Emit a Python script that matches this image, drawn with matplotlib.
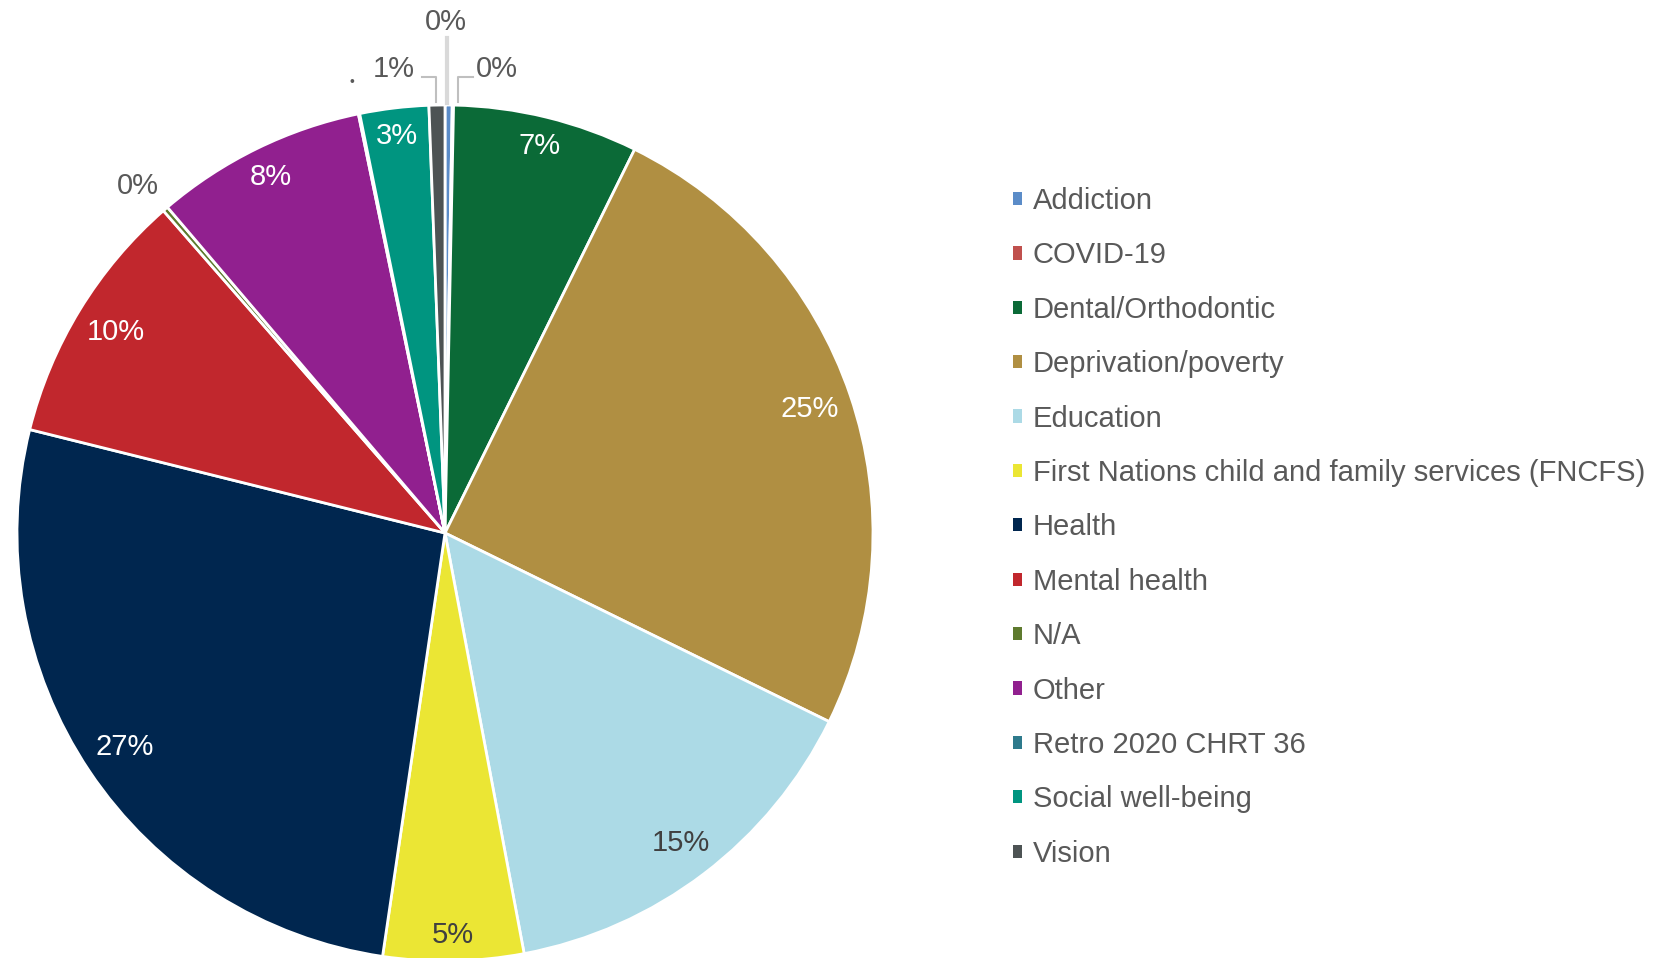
import matplotlib.pyplot as plt
import numpy as np
from matplotlib.patches import Patch

plt.rcParams['font.family'] = ['Liberation Sans', 'DejaVu Sans']

categories = ["Addiction", "COVID-19", "Dental/Orthodontic", "Deprivation/poverty",
              "Education", "First Nations child and family services (FNCFS)", "Health",
              "Mental health", "N/A", "Other", "Retro 2020 CHRT 36",
              "Social well-being", "Vision"]
shares = [0.27, 0.05, 7.0, 25.0, 14.8, 5.3, 26.6, 9.7, 0.2, 8.0, 0.05, 2.6, 0.6]
colors = ["#5b8cc8", "#c0504d", "#0b6a37", "#b08f42", "#acdae6", "#ebe634", "#00264f",
          "#c1272d", "#5e7a2e", "#91208f", "#2e7a8c", "#009580", "#4d5354"]

# label styling for the inside labels (radius as fraction, text colour)
inside = {2: (0.93, "white"), 3: (0.90, "white"), 4: (0.91, "#404040"),
          5: (0.94, "#404040"), 6: (0.90, "white"), 7: (0.90, "white"),
          9: (0.925, "white"), 11: (0.935, "white")}

W, H = 1662, 958
cx, cy, R = 445, 533, 428
fig = plt.figure(figsize=(W / 100, H / 100), dpi=100)
ax = fig.add_axes([(cx - R) / W, (H - cy - R) / H, 2 * R / W, 2 * R / H])

wedges, _ = ax.pie(shares, colors=colors, startangle=90, counterclock=False,
                   radius=1, wedgeprops=dict(edgecolor='white', linewidth=2))
for w in wedges:
    w.set_clip_on(False)
ax.set_xlim(-1, 1)
ax.set_ylim(-1, 1)
ax.set_aspect('equal')
ax.axis('off')

total = sum(shares)
pct = [f"{round(v / total * 100)}%" for v in shares]
fs = 21

for i, (r, c) in inside.items():
    w = wedges[i]
    ang = np.deg2rad((w.theta1 + w.theta2) / 2)
    ax.text(r * np.cos(ang), r * np.sin(ang), pct[i], ha='center', va='center',
            fontsize=fs, color=c)

grey = "#595959"
line = "#bfbfbf"

def px(x, y):
    return (x - cx) / R, (cy - y) / R

# Addiction
ax.text(*px(446, 22), pct[0], ha='center', va='center', fontsize=fs, color=grey)
ax.plot(*zip(px(447, 38), px(447, 103)), color="#d9d9d9", lw=3, clip_on=False)
# COVID-19
ax.text(*px(497, 69), pct[1], ha='center', va='center', fontsize=fs, color=grey)
ax.plot(*zip(px(473, 77), px(458, 77), px(458, 102)), color=line, lw=1.5, clip_on=False)
# Vision
ax.text(*px(394, 69), pct[12], ha='center', va='center', fontsize=fs, color=grey)
ax.plot(*zip(px(422, 77), px(436, 77), px(436, 102)), color=line, lw=1.5, clip_on=False)
# Retro 2020 CHRT 36 (label squeezed to a dot)
ax.text(*px(352, 82), "•", ha='center', va='center', fontsize=10, color=grey)
# N/A
ax.text(*px(138, 186), pct[8], ha='center', va='center', fontsize=fs, color=grey)

handles = [Patch(facecolor=c, edgecolor='none') for c in colors]
fig.legend(handles, categories, loc='upper left', bbox_to_anchor=(1013 / W, 1 - 187 / H),
           frameon=False, fontsize=fs, labelcolor=grey, handlelength=0.32,
           handleheight=0.32, handletextpad=0.35, labelspacing=0.905,
           borderpad=0, borderaxespad=0)

fig.savefig("out.png", dpi=100)
